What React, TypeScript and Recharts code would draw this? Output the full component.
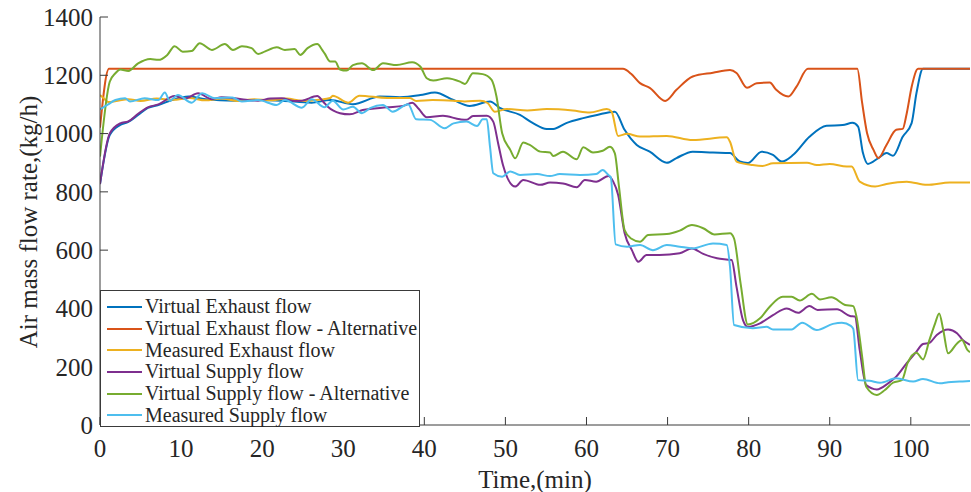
import React from 'react';
import { LineChart, Line, XAxis, YAxis, Legend, Label } from 'recharts';

const xTicks = [0, 10, 20, 30, 40, 50, 60, 70, 80, 90, 100];
const yTicks = [0, 200, 400, 600, 800, 1000, 1200, 1400];
const xMax = 107.3;

// Virtual Exhaust flow
const veT = [0, 1.2, 2.5, 3.5, 4.7, 5.9, 7.2, 8.9, 10.9, 13, 16.6, 19.5, 22.4, 26.1, 28.4, 31.2, 34.5, 37, 39.5, 41.3, 43.6, 45.6, 48.1, 49.3, 51.8, 53.4, 55.1, 55.9, 57.5, 59.6, 61.3, 63.5, 64.7, 66.2, 67.8, 69.9, 71.1, 73.1, 75.6, 77.7, 78.9, 79.9, 81.6, 83, 84.1, 85.5, 87.5, 89.6, 91.6, 92.8, 93.5, 94.1, 94.7, 96, 97, 97.8, 99, 100.1, 100.7, 101.5, 107.3];
const veV = [827, 995, 1030, 1040, 1064, 1088, 1098, 1115, 1127, 1118, 1113, 1115, 1113, 1106, 1115, 1101, 1127, 1125, 1132, 1141, 1115, 1095, 1110, 1088, 1064, 1036, 1016, 1016, 1036, 1053, 1064, 1075, 1013, 961, 938, 900, 916, 938, 935, 933, 904, 899, 938, 927, 904, 927, 989, 1027, 1029, 1037, 1024, 933, 896, 916, 933, 924, 989, 1036, 1139, 1222, 1222];

// Virtual Exhaust flow - Alternative
const veaT = [0, 1.1, 64.5, 65.5, 66.6, 67.8, 69.7, 71.1, 73.1, 75.6, 77.7, 78.5, 79.8, 81, 82.6, 83.4, 84.9, 85.9, 87.3, 93.4, 94, 94.6, 95.4, 96, 97, 98.2, 99, 99.5, 100.1, 100.9, 107.3];
const veaV = [1020, 1222, 1222, 1205, 1173, 1157, 1112, 1150, 1196, 1209, 1218, 1208, 1157, 1173, 1175, 1150, 1127, 1161, 1222, 1222, 1105, 1002, 944, 916, 961, 1013, 1016, 1070, 1160, 1222, 1222];

// Measured Exhaust flow
const meT = [0, 0.5, 1, 2, 3.5, 5, 7, 9, 11, 13, 15, 17, 19, 21, 23, 25, 27, 28.4, 28.7, 30.6, 32, 35.4, 38.2, 39, 41, 43.6, 45, 46.9, 47.8, 48.7, 50.2, 52.7, 55.1, 58.3, 60.4, 62.5, 63.1, 63.9, 65, 66.6, 69.9, 73.1, 77.3, 77.7, 78.5, 80.5, 81.7, 83, 87.2, 88.4, 90, 92.1, 92.7, 93.7, 95.6, 97, 99.5, 102, 104.8, 107.3];
const meV = [1132, 1120, 1108, 1112, 1118, 1112, 1120, 1116, 1122, 1114, 1120, 1112, 1118, 1114, 1120, 1112, 1116, 1122, 1130, 1106, 1130, 1122, 1122, 1112, 1115, 1113, 1110, 1113, 1105, 1075, 1084, 1079, 1084, 1079, 1072, 1084, 1075, 992, 999, 990, 992, 978, 987, 972, 904, 892, 889, 898, 900, 892, 896, 887, 887, 835, 818, 827, 835, 824, 832, 832];

// Virtual Supply flow
const vsT = [0, 1.2, 2.5, 3.5, 4.7, 5.9, 7.2, 9.2, 10.5, 12.1, 13.8, 15, 16.6, 18, 19.5, 21, 22.4, 24, 24.9, 26.8, 27.5, 28.1, 29.6, 30.8, 32.4, 35.4, 37.4, 38.5, 39.3, 40.3, 42.3, 44.4, 45.2, 46, 47.7, 48.5, 49.1, 49.7, 51.2, 52.2, 54.3, 55.5, 57.1, 58.8, 59.8, 61.2, 62.7, 63.3, 63.9, 64.7, 65.6, 66.4, 67.4, 69, 71.5, 73, 74.4, 76.1, 77.9, 78.5, 79.3, 79.9, 81.4, 83, 84.7, 86.1, 87.5, 88.5, 90.9, 92.5, 93.1, 93.7, 94.5, 95.8, 97.2, 98.2, 99.5, 100.7, 101.5, 102.3, 103.2, 104.6, 105.7, 106.4, 107.3];
const vsV = [827, 1000, 1035, 1042, 1068, 1090, 1100, 1129, 1120, 1138, 1118, 1125, 1121, 1116, 1113, 1120, 1121, 1112, 1113, 1129, 1110, 1092, 1070, 1066, 1081, 1090, 1095, 1106, 1085, 1056, 1061, 1049, 1047, 1060, 1061, 1041, 967, 892, 818, 841, 824, 832, 829, 816, 841, 835, 854, 835, 790, 659, 600, 560, 583, 583, 589, 606, 587, 572, 566, 475, 360, 337, 349, 377, 400, 385, 408, 395, 397, 374, 372, 257, 137, 122, 143, 166, 212, 252, 278, 282, 309, 328, 315, 292, 275];

// Virtual Supply flow - Alternative
const vsaT = [0, 1.2, 1.9, 2.5, 3.5, 4.7, 6.2, 7.2, 8.3, 9.2, 10.2, 11.3, 12.3, 13.8, 15.4, 16.4, 17.5, 18.7, 19.5, 20.3, 21.8, 22.8, 24, 24.7, 25.6, 26.8, 27.4, 27.7, 28.4, 29, 29.6, 30.4, 31.2, 32.3, 33.7, 34.9, 36.6, 38.5, 39.5, 40.3, 41.1, 42.8, 44.4, 45, 46, 47.2, 48.3, 48.9, 49.6, 50.6, 51.2, 52.2, 53, 54.3, 55.5, 55.9, 57.1, 58.8, 59.6, 60.8, 62, 62.9, 63.5, 64, 64.7, 65.5, 66.6, 67.6, 69.9, 71.5, 73, 74.4, 75.8, 77.7, 78.2, 79, 79.9, 81.4, 82.6, 84.2, 85.3, 86.3, 87.8, 88.8, 90.2, 91.9, 92.9, 93.3, 94, 94.5, 95.8, 96.8, 97.8, 98.9, 99.6, 100.7, 101.5, 102.3, 103, 103.5, 104, 104.6, 105.7, 106.3, 107, 107.3];
const vsaV = [921, 1178, 1207, 1220, 1215, 1241, 1256, 1253, 1270, 1300, 1281, 1283, 1310, 1287, 1307, 1287, 1300, 1293, 1273, 1281, 1296, 1287, 1290, 1270, 1293, 1307, 1287, 1275, 1247, 1247, 1220, 1216, 1235, 1241, 1218, 1241, 1235, 1245, 1230, 1190, 1182, 1190, 1178, 1170, 1207, 1204, 1184, 1127, 1001, 944, 915, 969, 961, 938, 935, 923, 938, 912, 953, 935, 941, 955, 932, 820, 669, 640, 629, 652, 655, 667, 686, 675, 654, 658, 640, 487, 345, 366, 406, 440, 440, 427, 450, 431, 438, 412, 408, 372, 234, 131, 103, 120, 145, 154, 212, 248, 225, 292, 349, 383, 326, 246, 280, 292, 257, 250];

// Measured Supply flow
const msT = [0, 1, 1.9, 3.1, 3.7, 5.5, 7.2, 8, 8.6, 9.6, 11.3, 12.6, 14.2, 16.3, 17.5, 19.5, 21.8, 22.8, 24.9, 26.1, 27.7, 28.7, 30, 31.2, 32.3, 33.3, 34.9, 36.1, 38, 39, 40.7, 42.5, 43.6, 45.2, 46.5, 47.2, 47.7, 48.1, 48.5, 49.6, 50.6, 51.8, 53.9, 55.5, 56.7, 59.2, 61.2, 62, 62.7, 63, 63.6, 65, 66.6, 68.2, 69.9, 71.5, 73.1, 75.6, 77.3, 77.7, 78.2, 80.5, 82.2, 83, 85.3, 86.6, 88.4, 90.4, 91.5, 92.6, 92.9, 93.5, 94.9, 96.2, 98.2, 100.3, 101.5, 103.6, 104.6, 106, 107.3];
const msV = [1083, 1100, 1115, 1121, 1110, 1121, 1115, 1141, 1113, 1132, 1106, 1138, 1121, 1124, 1110, 1115, 1098, 1115, 1089, 1118, 1090, 1113, 1083, 1092, 1070, 1087, 1098, 1075, 1101, 1049, 1047, 1018, 1035, 1041, 1026, 1049, 1049, 955, 864, 852, 870, 858, 861, 854, 861, 858, 861, 875, 858, 850, 620, 612, 618, 600, 618, 612, 606, 623, 618, 543, 343, 332, 337, 328, 328, 351, 326, 347, 351, 340, 330, 154, 152, 145, 160, 149, 158, 143, 147, 149, 151];

const seriesNames = [
  'Virtual Exhaust flow',
  'Virtual Exhaust flow - Alternative',
  'Measured Exhaust flow',
  'Virtual Supply flow',
  'Virtual Supply flow - Alternative',
  'Measured Supply flow',
];
const seriesColors = ['#0072BD', '#D95319', '#EDB120', '#7E2F8E', '#77AC30', '#4DBEEE'];
const seriesTimes = [veT, veaT, meT, vsT, vsaT, msT];
const seriesValues = [veV, veaV, meV, vsV, vsaV, msV];

const series = seriesNames.map((name, i) => ({
  name,
  color: seriesColors[i],
  data: seriesTimes[i].map((t, j) => ({ t, v: seriesValues[i][j] })),
}));

const FONT = '"Liberation Serif", "Times New Roman", serif';
const AXIS = '#3a3a3a';
const TEXT = '#262626';

const renderLegend = () => (
  <div
    style={{
      width: 318,
      height: 130,
      border: `1px solid ${AXIS}`,
      background: '#fff',
      fontFamily: FONT,
      fontSize: 20,
      color: TEXT,
      boxSizing: 'content-box',
      paddingTop: 5,
    }}
  >
    {series.map((s) => (
      <div key={s.name} style={{ display: 'flex', alignItems: 'center', height: 21.7, whiteSpace: 'nowrap' }}>
        <svg width={44} height={6} style={{ flex: 'none' }}>
          <line x1={6} y1={3} x2={41} y2={3} stroke={s.color} strokeWidth={2} />
        </svg>
        <span>{s.name}</span>
      </div>
    ))}
  </div>
);

const renderYTitle = () => (
  <text
    x={28}
    y={222}
    transform="rotate(-90 28 222)"
    textAnchor="middle"
    dominantBaseline="central"
    fontFamily={FONT}
    fontSize={25}
    fill={TEXT}
  >
    Air mass flow rate,(kg/h)
  </text>
);

const renderXTitle = () => (
  <text x={535} y={479} textAnchor="middle" dominantBaseline="central" fontFamily={FONT} fontSize={25} fill={TEXT}>
    Time,(min)
  </text>
);

export default function App() {
  return (
    <div style={{ position: 'absolute', left: 0, top: 0, width: 971, height: 492, background: '#fff' }}>
      <LineChart width={971} height={492} margin={{ top: 17, right: 1, bottom: 0, left: 0 }}>
        <XAxis
          dataKey="t"
          type="number"
          domain={[0, xMax]}
          ticks={xTicks}
          allowDataOverflow
          height={67}
          tickSize={-8}
          tickMargin={22}
          stroke={AXIS}
          tick={{ fill: TEXT, fontFamily: FONT, fontSize: 25 }}
        >
          <Label content={renderXTitle} />
        </XAxis>
        <XAxis
          xAxisId="top"
          orientation="top"
          dataKey="t"
          type="number"
          domain={[0, xMax]}
          ticks={xTicks}
          allowDataOverflow
          height={0}
          tick={false}
          tickSize={-8}
          stroke={AXIS}
        />
        <YAxis
          dataKey="v"
          type="number"
          domain={[0, 1400]}
          ticks={yTicks}
          allowDataOverflow
          width={100}
          tickSize={-8}
          tickMargin={15}
          stroke={AXIS}
          tick={{ fill: TEXT, fontFamily: FONT, fontSize: 25 }}
        >
          <Label content={renderYTitle} />
        </YAxis>
        <YAxis
          yAxisId="right"
          orientation="right"
          type="number"
          domain={[0, 1400]}
          ticks={yTicks}
          allowDataOverflow
          width={0}
          tick={false}
          tickSize={-8}
          stroke={AXIS}
        />
        {series.map((s) => (
          <Line
            key={s.name}
            data={s.data}
            dataKey="v"
            name={s.name}
            type="monotone"
            stroke={s.color}
            strokeWidth={2}
            dot={false}
            activeDot={false}
            isAnimationActive={false}
          />
        ))}
        <Legend
          layout="vertical"
          align="center"
          verticalAlign="middle"
          content={renderLegend}
          wrapperStyle={{ left: 100, top: 290, width: 320, height: 136 }}
        />
      </LineChart>
    </div>
  );
}
